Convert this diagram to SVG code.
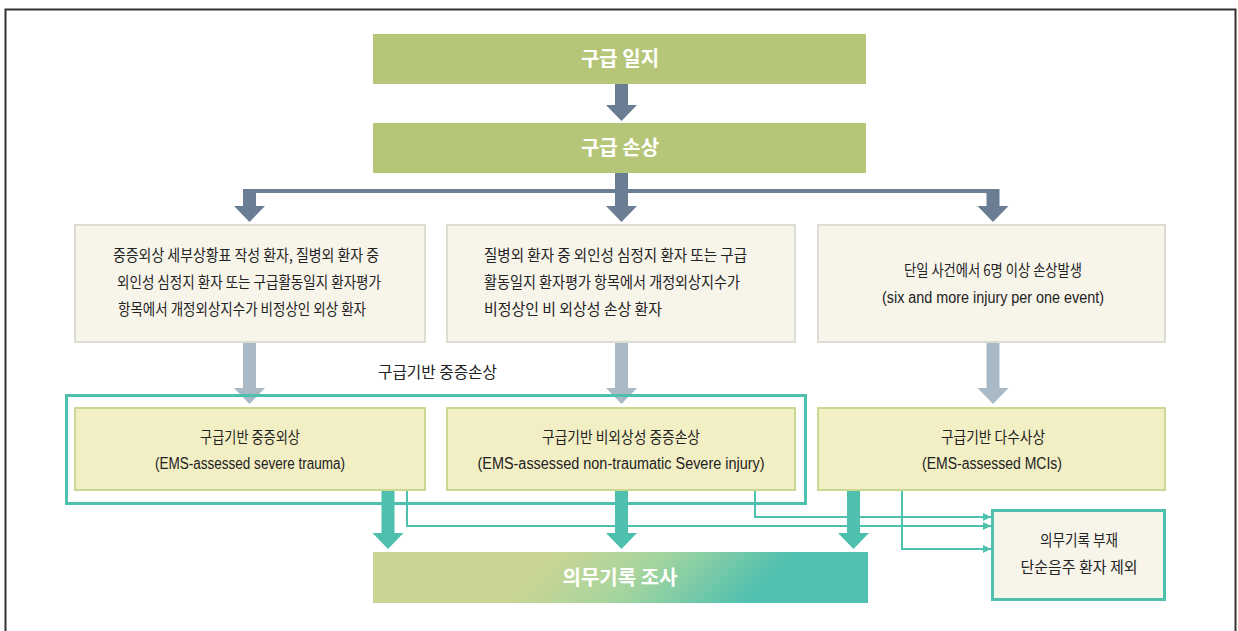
<svg xmlns="http://www.w3.org/2000/svg" width="1238" height="631" viewBox="0 0 1238 631">
<style>
.frame{fill:none;stroke:#333;stroke-width:2}
.olive{fill:#b5c679}
.beige{fill:#f7f4ea;stroke:#dcdcd3;stroke-width:2}
.yellow{fill:#f3efc4;stroke:#c9d994;stroke-width:2}
.excl{fill:#f7f4ea;stroke:#4ec0ae;stroke-width:3}
.title{font-family:"Noto Sans CJK KR","Noto Sans",sans-serif;font-size:20px;font-weight:bold;fill:#fff;text-anchor:middle}
.kr{font-family:"Noto Sans CJK KR","Noto Sans",sans-serif;font-size:15.5px;fill:#222}
.en{font-family:"Liberation Sans","Noto Sans",sans-serif;font-size:16px;fill:#222}
.mid{text-anchor:middle}
.dark{fill:#6a7d93}
.light{fill:#a9b9c5}
.teal{fill:#4ec0ae}
.thin{fill:none;stroke:#4ec0ae;stroke-width:2}
.tframe{fill:none;stroke:#4ec0ae;stroke-width:3}
</style>
<defs>
<linearGradient id="grad" gradientUnits="userSpaceOnUse" x1="535" y1="577" x2="655" y2="697">
<stop offset="0" stop-color="#c8d594"/>
<stop offset="0.4" stop-color="#a8d59e"/>
<stop offset="1" stop-color="#4ec1b0"/>
</linearGradient>
<marker id="ah" viewBox="0 0 8 8" refX="8" refY="4" markerWidth="8" markerHeight="8" markerUnits="userSpaceOnUse" orient="auto">
<path d="M0,0 L8,4 L0,8 Z" fill="#4ec0ae"/>
</marker>
</defs>
<rect x="0" y="0" width="1238" height="631" fill="#fff"/>
<rect class="frame" x="5.5" y="9.5" width="1230" height="640"/>

<g id="connectors">
<path class="dark" d="M615,84 H628 V105 H637 L621.5,121 L606,105 H615 Z"/>
<path class="dark" d="M615,173 H628 V189 H999.5 V206 H1008.5 L993,222 L977.5,206 H986.5 V193 H628 V206 H637 L621.5,222 L606,206 H615 V193 H256 V206 H265 L249.5,222 L234,206 H243 V189 H615 Z"/>
<path class="light" d="M243,342 H256 V388 H265 L249.5,404 L234,388 H243 Z"/>
<path class="light" d="M615,342 H628 V388 H637 L621.5,404 L606,388 H615 Z"/>
<path class="light" d="M986.5,342 H999.5 V388 H1008.5 L993,404 L977.5,388 H986.5 Z"/>
<rect class="tframe" x="66.5" y="395.5" width="739" height="108"/>
<path class="thin" d="M407,490 V526 H991" marker-end="url(#ah)"/>
<path class="thin" d="M755,490 V517 H991" marker-end="url(#ah)"/>
<path class="thin" d="M902,490 V549 H991" marker-end="url(#ah)"/>
<path class="teal" d="M381.5,490 H394.5 V533 H403.5 L388,549 L372.5,533 H381.5 Z"/>
<path class="teal" d="M615,490 H628 V533 H637 L621.5,549 L606,533 H615 Z"/>
<path class="teal" d="M847,490 H860 V533 H869 L853.5,549 L838,533 H847 Z"/>
</g>

<g id="node-log">
<rect class="olive" x="373" y="34" width="493" height="50"/>
<text class="title" x="620" y="66">구급 일지</text>
</g>
<g id="node-injury">
<rect class="olive" x="373" y="123" width="493" height="50"/>
<text class="title" x="620" y="155">구급 손상</text>
</g>

<g id="node-crit1">
<rect class="beige" x="75" y="225" width="350" height="117"/>
<text class="kr mid" x="246" y="261" textLength="266" lengthAdjust="spacingAndGlyphs">중증외상 세부상황표 작성 환자, 질병외 환자 중</text>
<text class="kr mid" x="249" y="288" textLength="264" lengthAdjust="spacingAndGlyphs">외인성 심정지 환자 또는 구급활동일지 환자평가</text>
<text class="kr mid" x="242" y="315" textLength="248" lengthAdjust="spacingAndGlyphs">항목에서 개정외상지수가 비정상인 외상 환자</text>
</g>
<g id="node-crit2">
<rect class="beige" x="447" y="225" width="348" height="117"/>
<text class="kr" x="484" y="261" textLength="263" lengthAdjust="spacingAndGlyphs">질병외 환자 중 외인성 심정지 환자 또는 구급</text>
<text class="kr" x="484" y="288" textLength="256" lengthAdjust="spacingAndGlyphs">활동일지 환자평가 항목에서 개정외상지수가</text>
<text class="kr" x="484" y="315" textLength="178" lengthAdjust="spacingAndGlyphs">비정상인 비 외상성 손상 환자</text>
</g>
<g id="node-crit3">
<rect class="beige" x="818" y="225" width="347" height="117"/>
<text class="kr mid" x="993" y="276" textLength="178" lengthAdjust="spacingAndGlyphs">단일 사건에서 6명 이상 손상발생</text>
<text class="en mid" x="993" y="303" textLength="222" lengthAdjust="spacingAndGlyphs">(six and more injury per one event)</text>
</g>

<g id="label-severe">
<text class="kr" x="378" y="378" font-size="16" textLength="119" lengthAdjust="spacingAndGlyphs">구급기반 중증손상</text>
</g>

<g id="node-trauma">
<rect class="yellow" x="75" y="408" width="350" height="82"/>
<text class="kr mid" x="250" y="443" textLength="100" lengthAdjust="spacingAndGlyphs">구급기반 중증외상</text>
<text class="en mid" x="250" y="469" textLength="190" lengthAdjust="spacingAndGlyphs">(EMS-assessed severe trauma)</text>
</g>
<g id="node-nontrauma">
<rect class="yellow" x="447" y="408" width="348" height="82"/>
<text class="kr mid" x="621" y="443" textLength="158" lengthAdjust="spacingAndGlyphs">구급기반 비외상성 중증손상</text>
<text class="en mid" x="621" y="469" textLength="287" lengthAdjust="spacingAndGlyphs">(EMS-assessed non-traumatic Severe injury)</text>
</g>
<g id="node-mci">
<rect class="yellow" x="818" y="408" width="347" height="82"/>
<text class="kr mid" x="993" y="443" textLength="104" lengthAdjust="spacingAndGlyphs">구급기반 다수사상</text>
<text class="en mid" x="992" y="469" textLength="140" lengthAdjust="spacingAndGlyphs">(EMS-assessed MCIs)</text>
</g>

<g id="node-review">
<rect x="373" y="552" width="495" height="51" fill="url(#grad)"/>
<text class="title" x="620" y="585">의무기록 조사</text>
</g>

<g id="node-exclude">
<rect class="excl" x="992.5" y="510.5" width="172" height="89"/>
<text class="kr mid" x="1079" y="546" textLength="78" lengthAdjust="spacingAndGlyphs">의무기록 부재</text>
<text class="kr mid" x="1079" y="573" textLength="117" lengthAdjust="spacingAndGlyphs">단순음주 환자 제외</text>
</g>
</svg>
